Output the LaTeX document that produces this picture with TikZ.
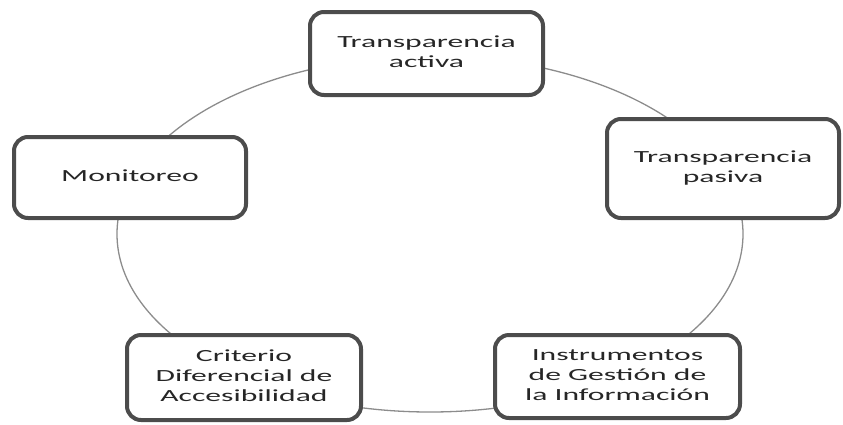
\documentclass[tikz,border=0pt]{standalone}
\usepackage{fontspec}
\setmainfont{Carlito}
\usepackage{graphicx}
\newcommand{\widetext}[1]{\scalebox{1.86}[1]{\fontsize{17}{20}\selectfont\begin{tabular}{@{}c@{}}#1\end{tabular}}}
\tikzset{
  ring/.style={draw=black!45, line width=1.3pt},
  cbox/.style={draw=black!70, line width=4pt, fill=white, rounded corners=14pt,
               inner sep=0pt, text=black!85, align=center}
}
\begin{document}
\begin{tikzpicture}[x=1pt,y=-1pt]
  \useasboundingbox (0,0) rectangle (843,424);
  \coordinate (c) at (430,234);
  \draw[ring] (c) ellipse [x radius=313pt, y radius=178pt];
  \node[cbox, minimum width=233pt, minimum height=83pt] (ta) at (426.5,53.5)
    {\widetext{Transparencia\\activa}};
  \node[cbox, minimum width=232pt, minimum height=99pt] (tp) at (723,168.5)
    {\widetext{Transparencia\\pasiva}};
  \node[cbox, minimum width=232pt, minimum height=81pt] (mo) at (130,177.5)
    {\widetext{Monitoreo}};
  \node[cbox, minimum width=234pt, minimum height=85pt] (cd) at (244,377.5)
    {\widetext{Criterio\\Diferencial de\\Accesibilidad}};
  \node[cbox, minimum width=245pt, minimum height=83pt] (ig) at (617.5,376.5)
    {\widetext{Instrumentos\\de Gestión de\\la Información}};
\end{tikzpicture}
\end{document}
